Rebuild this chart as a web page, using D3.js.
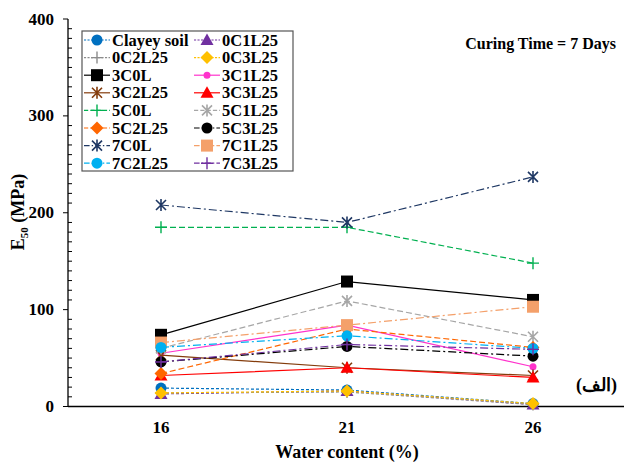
<!DOCTYPE html>
<html><head><meta charset="utf-8">
<script src="https://cdn.jsdelivr.net/npm/d3@7"></script>
<style>body{margin:0;background:#fff}svg{display:block}</style>
</head><body><svg id="c" width="624" height="462"></svg>
<script>
const waterContent = [16, 21, 26];
const yTicks = [0, 100, 200, 300, 400];
const seriesNames = ["Clayey soil","0C1L25","0C2L25","0C3L25","3C0L","3C1L25","3C2L25","3C3L25","5C0L","5C1L25","5C2L25","5C3L25","7C0L","7C1L25","7C2L25","7C3L25"];
const clayeySoil = [19, 17, 3];
const c0C1L25 = [13, 16, 2];
const c0C2L25 = [14, 15, 2];
const c0C3L25 = [14, 16, 3];
const c3C0L = [74, 129, 110];
const c3C1L25 = [55, 84, 41];
const c3C2L25 = [53, 40, 32];
const c3C3L25 = [32, 40, 30];
const c5C0L = [185, 185, 148];
const c5C1L25 = [60, 109, 72];
const c5C2L25 = [34, 80, 61];
const c5C3L25 = [46, 62, 52];
const c7C0L = [208, 190, 237];
const c7C1L25 = [66, 84, 103];
const c7C2L25 = [61, 73, 60];
const c7C3L25 = [46, 64, 59];
const seriesValues = [clayeySoil,c0C1L25,c0C2L25,c0C3L25,c3C0L,c3C1L25,c3C2L25,c3C3L25,c5C0L,c5C1L25,c5C2L25,c5C3L25,c7C0L,c7C1L25,c7C2L25,c7C3L25];
const colors = ["#0070C0","#7030A0","#8C8C8C","#FFC000","#000000","#FF33CC","#843C0C","#FF0000","#00B050","#A6A6A6","#FF6600","#000000","#1F3864","#F4A06A","#00B0F0","#7030A0"];
const dashes = ["3,2","3,2","3,2","3,2",null,null,null,null,"6,3","6,3","6,3","8,3,2,3","8,3,2,3","8,3,2,3","8,3,2,3","8,3,2,3"];
const markers = ["circle","triangle","plus","diamond","square","smallcircle","star","triangle","plus","star","diamond","circle","star","square","circle","plus"];

const svg = d3.select("#c");
const x = d3.scaleLinear().domain([13.5, 28.5]).range([68, 626]);
const y = d3.scaleLinear().domain([0, 400]).range([406.5, 19]);
function txt(sel, size) {
  return sel.append("text").style("font-family","Liberation Serif").style("font-weight","bold").style("font-size", size + "px");
}

// axes
svg.append("line").attr("x1",68).attr("x2",624).attr("y1",y(0)).attr("y2",y(0)).attr("stroke","#000").attr("stroke-width",1.3);
svg.append("line").attr("x1",68).attr("x2",68).attr("y1",y(0)).attr("y2",y(400)).attr("stroke","#000").attr("stroke-width",1.3);
d3.range(0, 401, 10).forEach(v => {
  const major = v % 100 === 0;
  svg.append("line").attr("x1", major ? 63 : 68).attr("x2", major ? 68 : 72)
    .attr("y1", y(v)).attr("y2", y(v)).attr("stroke","#000").attr("stroke-width",1);
});
yTicks.forEach(v => txt(svg,17).attr("x",54).attr("y",y(v)+5.5).attr("text-anchor","end").text(v));
waterContent.forEach(v => txt(svg,17).attr("x",x(v)).attr("y",433).attr("text-anchor","middle").text(v));
txt(svg,18).attr("x",347).attr("y",458).attr("text-anchor","middle").text("Water content (%)");
const yt = txt(svg,18).attr("transform","translate(24,212) rotate(-90)").attr("text-anchor","middle");
yt.append("tspan").text("E");
yt.append("tspan").style("font-size","11px").attr("dy",4).text("50");
yt.append("tspan").attr("dy",-4).text(" (MPa)");
txt(svg,16).attr("x",616).attr("y",49).attr("text-anchor","end").text("Curing Time = 7 Days");
txt(svg,18).attr("x",617).attr("y",391).attr("text-anchor","end").text("(الف)");

function drawMarker(g, type, cx, cy, color) {
  if (type === "circle") g.append("circle").attr("cx",cx).attr("cy",cy).attr("r",5.5).attr("fill",color);
  else if (type === "smallcircle") g.append("circle").attr("cx",cx).attr("cy",cy).attr("r",3.5).attr("fill",color);
  else if (type === "square") g.append("rect").attr("x",cx-6).attr("y",cy-6).attr("width",12).attr("height",12).attr("fill",color);
  else if (type === "diamond") g.append("path").attr("d",`M${cx},${cy-6.5}L${cx+6.5},${cy}L${cx},${cy+6.5}L${cx-6.5},${cy}Z`).attr("fill",color);
  else if (type === "triangle") g.append("path").attr("d",`M${cx},${cy-6.5}L${cx+6.5},${cy+5}L${cx-6.5},${cy+5}Z`).attr("fill",color);
  else if (type === "plus") g.append("path").attr("d",`M${cx-6},${cy}H${cx+6}M${cx},${cy-6}V${cy+6}`).attr("stroke",color).attr("stroke-width",1.4);
  else if (type === "star") g.append("path").attr("d",`M${cx-5},${cy-5}L${cx+5},${cy+5}M${cx-5},${cy+5}L${cx+5},${cy-5}M${cx},${cy-6}V${cy+6}`).attr("stroke",color).attr("stroke-width",1.6);
}

const line = d3.line().x((d,i) => x(waterContent[i])).y(d => y(d));
seriesValues.forEach((vals, s) => {
  const g = svg.append("g");
  g.append("path").attr("d", line(vals)).attr("fill","none").attr("stroke",colors[s]).attr("stroke-width",1.2)
    .attr("stroke-dasharray", dashes[s]);
  vals.forEach((v,i) => drawMarker(g, markers[s], x(waterContent[i]), y(v), colors[s]));
});

// legend
const lg = svg.append("g");
lg.append("rect").attr("x",82).attr("y",31).attr("width",211).attr("height",140).attr("fill","#fff").attr("stroke","#555").attr("stroke-width",1.2);
seriesNames.forEach((name, s) => {
  const col = s % 2, row = Math.floor(s / 2);
  const cy = 40 + row * 17.6;
  const mx = col === 0 ? 97 : 207;
  lg.append("line").attr("x1",mx-13).attr("x2",mx+13).attr("y1",cy).attr("y2",cy).attr("stroke",colors[s]).attr("stroke-width",1.2).attr("stroke-dasharray",dashes[s] ? dashes[s].split(",").map(d=>+d*0.7).join(",") : null);
  drawMarker(lg, markers[s], mx, cy, colors[s]);
  txt(lg,16.5).attr("x", col === 0 ? 112 : 222).attr("y", cy + 5.5).text(name);
});
</script></body></html>
